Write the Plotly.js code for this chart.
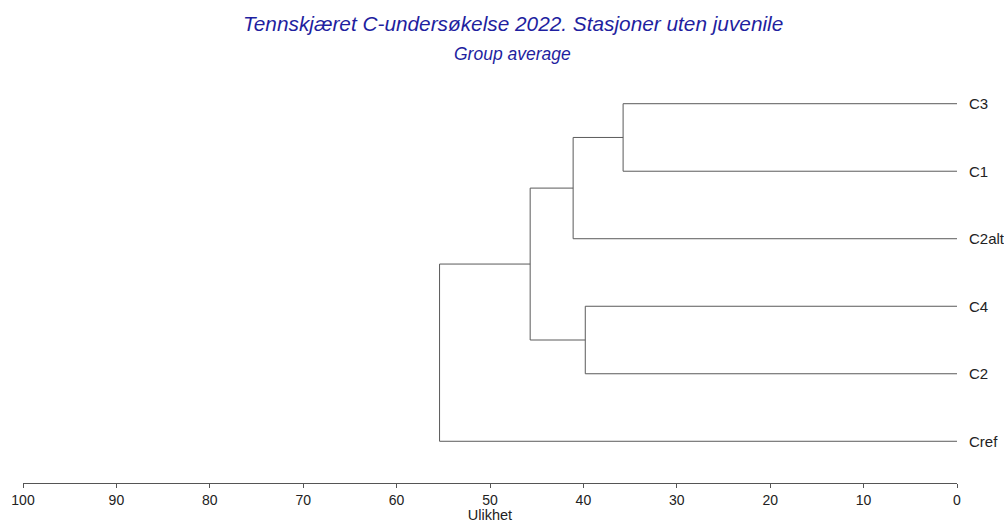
<!DOCTYPE html>
<html>
<head>
<meta charset="utf-8">
<script src="https://cdn.plot.ly/plotly-3.0.1.min.js"></script>
<style>html,body{margin:0;padding:0;background:#fff;}#chart{width:1004px;height:523px;}</style>
</head>
<body>
<div id="chart"></div>
<script>
// Leaves, top to bottom
const leaves = ['C3', 'C1', 'C2alt', 'C4', 'C2', 'Cref'];
// Merges: cluster ids 0..5 are leaves, each merge creates id 6,7,...
const mergeA = [0, 6, 3, 7, 9];
const mergeB = [1, 2, 4, 8, 5];
const mergeHeight = [35.75, 41.1, 39.8, 45.7, 55.4];
const tickValues = [100, 90, 80, 70, 60, 50, 40, 30, 20, 10, 0];
const titleText = 'Tennskjæret C-undersøkelse 2022. Stasjoner uten juvenile';
const subtitleText = 'Group average';
const xTitle = 'Ulikhet';

const n = leaves.length;
const nodeX = [], nodeY = [];
leaves.forEach((l, i) => { nodeX.push(0); nodeY.push(n - 1 - i); });

const xs = [], ys = [];
for (let k = 0; k < mergeA.length; k++) {
  const a = mergeA[k], b = mergeB[k], h = mergeHeight[k];
  xs.push(nodeX[a], h, h, nodeX[b], null);
  ys.push(nodeY[a], nodeY[a], nodeY[b], nodeY[b], null);
  nodeX.push(h);
  nodeY.push((nodeY[a] + nodeY[b]) / 2);
}

const FONT = 'Liberation Sans, Arial, sans-serif';
const traces = [{
  x: xs, y: ys, type: 'scatter', mode: 'lines',
  line: {color: '#5a5a5a', width: 1},
  hoverinfo: 'skip', showlegend: false
}];

const annotations = leaves.map((l, i) => ({
  x: 0, y: nodeY[i], xref: 'x', yref: 'y', text: l, showarrow: false,
  xanchor: 'left', yanchor: 'middle', xshift: 10,
  font: {family: FONT, size: 15, color: '#222'}
}));
annotations.push({
  x: 0.5245, y: 1.168, xref: 'paper', yref: 'paper', text: '<i>' + titleText + '</i>',
  showarrow: false, xanchor: 'center', yanchor: 'middle',
  font: {family: FONT, size: 20.8, color: '#1f1fa0'}
});
annotations.push({
  x: 0.5245, y: 1.0904, xref: 'paper', yref: 'paper', text: '<i>' + subtitleText + '</i>',
  showarrow: false, xanchor: 'center', yanchor: 'middle',
  font: {family: FONT, size: 17.5, color: '#1f1fa0'}
});

const layout = {
  width: 1004, height: 523,
  margin: {l: 23, r: 46.7, t: 90, b: 40.3},
  paper_bgcolor: '#fff', plot_bgcolor: '#fff',
  xaxis: {
    range: [100, 0], tickvals: tickValues, ticktext: tickValues.map(String),
    ticks: 'outside', ticklen: 4, tickcolor: '#555', tickwidth: 1,
    showline: true, linecolor: '#555', linewidth: 1,
    showgrid: false, zeroline: false, fixedrange: true,
    tickfont: {family: FONT, size: 14, color: '#222'},
    title: {text: xTitle, standoff: 2, font: {family: FONT, size: 14.5, color: '#222'}}
  },
  yaxis: {
    range: [-0.618, 5.203], visible: false, showgrid: false, zeroline: false, fixedrange: true
  },
  annotations: annotations
};

Plotly.newPlot('chart', traces, layout, {displayModeBar: false, staticPlot: true});
</script>
</body>
</html>
